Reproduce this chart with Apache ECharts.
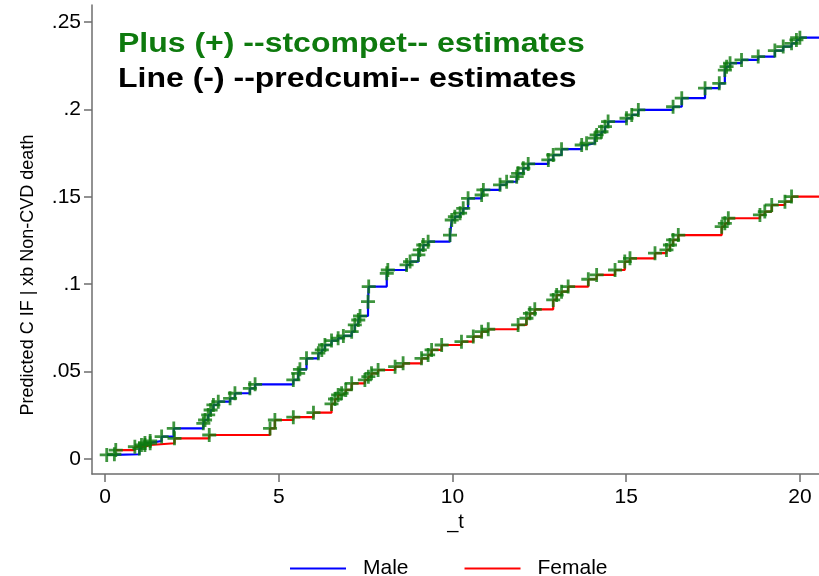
<!DOCTYPE html>
<html>
<head>
<meta charset="utf-8">
<script src="https://cdn.jsdelivr.net/npm/echarts@6/dist/echarts.min.js"></script>
<style>html,body{margin:0;padding:0;background:#fff}#c{width:819px;height:576px}</style>
</head>
<body>
<div id="c"></div>
<script>
// ---- data ----
const maleT = [0.05,0.27,0.99,1.05,1.15,1.30,1.63,1.98,2.83,2.88,2.97,3.04,3.12,3.26,3.60,3.74,4.17,4.32,5.42,5.56,5.61,5.80,6.14,6.24,6.33,6.52,6.71,6.86,7.10,7.19,7.29,7.34,7.57,7.59,8.11,8.14,8.68,8.78,9.02,9.06,9.16,9.30,9.93,9.98,10.07,10.22,10.31,10.45,10.84,10.89,11.37,11.56,11.85,11.89,12.04,12.18,12.76,12.90,13.14,13.72,13.86,14.10,14.15,14.29,14.39,14.48,15.01,15.16,15.35,16.35,16.60,17.27,17.68,17.84,17.89,17.99,18.32,18.80,19.28,19.52,19.76,19.90,20.00];
const maleCIF = [0.0023,0.0027,0.0060,0.0080,0.0092,0.0103,0.0128,0.0175,0.0204,0.0223,0.0252,0.0280,0.0309,0.0328,0.0347,0.0376,0.0404,0.0427,0.0452,0.0490,0.0513,0.0576,0.0605,0.0624,0.0652,0.0677,0.0691,0.0704,0.0728,0.0767,0.0795,0.0818,0.0900,0.0986,0.1062,0.1081,0.1110,0.1129,0.1167,0.1196,0.1224,0.1243,0.1281,0.1367,0.1386,0.1406,0.1434,0.1491,0.1510,0.1539,0.1568,0.1586,0.1615,0.1634,0.1663,0.1688,0.1711,0.1739,0.1772,0.1796,0.1806,0.1835,0.1854,0.1872,0.1901,0.1930,0.1949,0.1968,0.1997,0.2015,0.2064,0.2121,0.2149,0.2225,0.2244,0.2264,0.2283,0.2302,0.2336,0.2359,0.2378,0.2397,0.2410];
const femaleT = [0.31,0.86,1.15,1.30,2.00,3.00,4.75,4.89,5.42,6.00,6.52,6.62,6.71,6.81,6.93,7.10,7.48,7.58,7.67,7.86,8.35,8.58,9.11,9.30,9.40,9.69,10.26,10.60,10.84,11.03,11.89,12.13,12.23,12.37,12.90,13.00,13.14,13.33,13.91,14.15,14.68,14.96,15.11,15.83,16.16,16.26,16.35,16.50,17.75,17.84,17.94,18.85,18.99,19.19,19.57,19.76];
const femaleCIF = [0.0051,0.0070,0.0080,0.0090,0.0118,0.0137,0.0175,0.0223,0.0239,0.0265,0.0315,0.0343,0.0366,0.0376,0.0395,0.0433,0.0452,0.0471,0.0490,0.0509,0.0528,0.0547,0.0576,0.0595,0.0624,0.0652,0.0671,0.0700,0.0728,0.0742,0.0767,0.0805,0.0833,0.0856,0.0910,0.0938,0.0957,0.0986,0.1028,0.1053,0.1081,0.1129,0.1148,0.1177,0.1196,0.1224,0.1253,0.1281,0.1329,0.1348,0.1377,0.1396,0.1415,0.1453,0.1472,0.1501];
const followUpEnd = 20.6;
const xTicks = [0,5,10,15,20];
const yTicks = [0,0.05,0.10,0.15,0.20,0.25];
const yTickLabels = ['0','.05','.1','.15','.2','.25'];
const seriesNames = ['Male','Female'];
const titleLines = ['Plus (+) --stcompet-- estimates','Line (-) --predcumi-- estimates'];
const xTitle = '_t';
const yTitle = 'Predicted C IF | xb Non-CVD death';

// ---- build ----
const GREEN = '#0e7a0e';
const PLUS = 'path://M-1,-0.2L-0.2,-0.2L-0.2,-1L0.2,-1L0.2,-0.2L1,-0.2L1,0.2L0.2,0.2L0.2,1L-0.2,1L-0.2,0.2L-1,0.2Z';
const pairs = (t, v) => t.map((x, i) => [x, v[i]]);
const maleLine = pairs(maleT, maleCIF).concat([[followUpEnd, maleCIF[maleCIF.length-1]]]);
const femaleLine = pairs(femaleT, femaleCIF).concat([[followUpEnd, femaleCIF[femaleCIF.length-1]]]);
const FONT = 'Liberation Sans, Arial, sans-serif';

const chart = echarts.init(document.getElementById('c'), null, {renderer:'canvas'});
chart.setOption({
  animation: false,
  backgroundColor: '#fff',
  grid: {left: 92, right: 0, top: 5, bottom: 102, containLabel: false},
  xAxis: {
    type: 'value', min: -0.374, max: 20.55,
    name: xTitle, nameLocation: 'middle', nameGap: 34,
    nameTextStyle: {color: '#000', fontSize: 20, fontFamily: FONT},
    axisLine: {onZero: false, lineStyle: {color: '#6e6e6e', width: 1.5}},
    axisTick: {length: 8, lineStyle: {color: '#6e6e6e', width: 1.5}, customValues: xTicks},
    axisLabel: {color: '#000', fontSize: 21, fontFamily: FONT, margin: 13, customValues: xTicks},
    splitLine: {show: false}
  },
  yAxis: {
    type: 'value', min: -0.0086, max: 0.2597,
    axisLine: {onZero: false, lineStyle: {color: '#6e6e6e', width: 1.5}},
    axisTick: {length: 8, lineStyle: {color: '#6e6e6e', width: 1.5}, customValues: yTicks},
    axisLabel: {color: '#000', fontSize: 21, fontFamily: FONT, margin: 11, customValues: yTicks,
      formatter: v => { let k = yTicks.findIndex(t => Math.abs(t - v) < 1e-9); return k >= 0 ? yTickLabels[k] : ''; }},
    splitLine: {show: false}
  },
  legend: {
    data: seriesNames, top: 553, left: 285, itemWidth: 56, itemHeight: 2, itemGap: 56,
    icon: 'rect',
    textStyle: {color: '#000', fontSize: 21, fontFamily: FONT, padding: [0,0,0,12]}
  },
  graphic: [
    {type: 'text', x: 28, y: 275, rotation: Math.PI/2,
      style: {text: yTitle, fill: '#000', font: '18px "Liberation Sans", Arial, sans-serif', textAlign: 'center', textVerticalAlign: 'middle'}},
    {type: 'text', left: 118, top: 31, style: {text: titleLines[0], fill: GREEN, font: 'bold 27px "Liberation Sans", Arial, sans-serif'}, scaleX: 1.185},
    {type: 'text', left: 118, top: 66, style: {text: titleLines[1], fill: '#000', font: 'bold 27px "Liberation Sans", Arial, sans-serif'}, scaleX: 1.185}
  ],
  series: [
    {name: seriesNames[0], type: 'line', step: 'end', data: maleLine, showSymbol: false, symbol: 'none',
      lineStyle: {color: '#0000ff', width: 2.2}, itemStyle: {color: '#0000ff'}, z: 2},
    {name: seriesNames[1], type: 'line', step: 'end', data: femaleLine, showSymbol: false, symbol: 'none',
      lineStyle: {color: '#ff0000', width: 2.2}, itemStyle: {color: '#ff0000'}, z: 2},
    {name: 'stcompet male', type: 'scatter', data: pairs(maleT, maleCIF), symbol: PLUS, symbolSize: 14,
      itemStyle: {color: GREEN}, z: 3},
    {name: 'stcompet female', type: 'scatter', data: pairs(femaleT, femaleCIF), symbol: PLUS, symbolSize: 14,
      itemStyle: {color: GREEN}, z: 3}
  ]
});
</script>
</body>
</html>
